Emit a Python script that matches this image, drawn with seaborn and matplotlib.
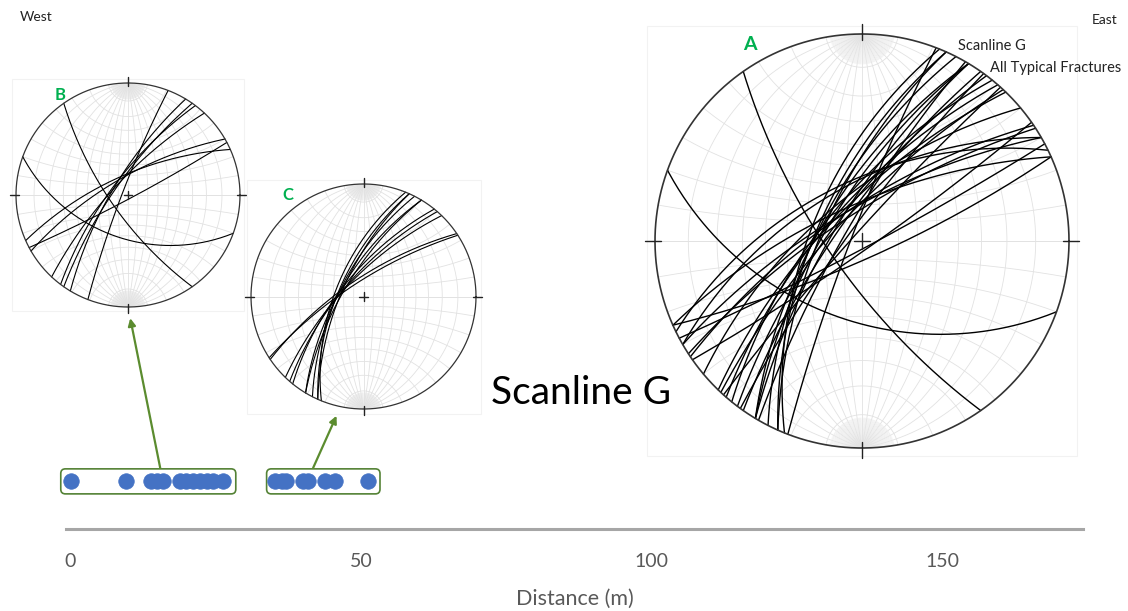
import numpy as np
import pandas as pd
import matplotlib
matplotlib.use('Agg')
import matplotlib.pyplot as plt
from matplotlib.patches import FancyBboxPatch, Rectangle, ConnectionPatch
import seaborn as sns

sns.set_theme(style='white')
plt.rcParams['font.family'] = ['Lato', 'DejaVu Sans']

W, H = 1128, 611

# fracture positions along scanline G (m)
group_b = [0.2, 9.6, 13.9, 14.9, 16.0, 18.9, 20.0, 21.2, 22.3, 23.5, 24.6, 26.3]
group_c = [35.2, 36.4, 37.2, 40.1, 40.9, 43.8, 45.5, 51.3]
dist_ticks = [0, 50, 100, 150]

# plane orientations, dip direction / dip (deg)
b_dipdir = [235, 200, 291, 301, 305, 307, 313, 330, 336, 152]
b_dip = [72, 48, 84, 74, 76, 73, 75, 72, 70, 86]

c_dipdir = [292, 294, 294, 297, 301, 301, 309, 311, 314, 327, 326]
c_dip = [62, 65, 68, 66, 67, 70, 68, 70, 71, 75, 72]

# extra typical fractures only in the combined net
a_extra_dipdir = [330, 334, 156, 145, 300, 306, 312, 320]
a_extra_dip = [60, 58, 80, 85, 80, 82, 85, 66]

GREEN = '#00B050'
ARROW = '#5B8C2F'
BLUE = '#4472C4'


def px_to_fig(x, y):
    return x / W, 1 - y / H


def project(v):
    # stereographic, lower hemisphere
    return v[:, 0] / (1 - v[:, 2]), v[:, 1] / (1 - v[:, 2])


def great_circle(dipdir, dip, r0=0.0, r1=180.0, n=200):
    dd = np.radians(dipdir)
    d = np.radians(dip)
    s = dd - np.pi / 2
    strike_v = np.array([np.sin(s), np.cos(s), 0.0])
    dip_v = np.array([np.sin(dd) * np.cos(d), np.cos(dd) * np.cos(d), -np.sin(d)])
    r = np.radians(np.linspace(r0, r1, n))
    v = np.outer(np.cos(r), strike_v) + np.outer(np.sin(r), dip_v)
    return project(v)


def small_circle(a, n=200):
    a = np.radians(a)
    phi = np.linspace(0, np.pi, n)
    v = np.column_stack([np.sin(a) * np.cos(phi),
                         np.full(n, np.cos(a)),
                         -np.sin(a) * np.sin(phi)])
    return project(v)


def net_axes(fig, cx, cy, R, lim=1.12):
    L = lim * R
    ax = fig.add_axes([(cx - L) / W, 1 - (cy + L) / H, 2 * L / W, 2 * L / H])
    ax.set_xlim(-lim, lim)
    ax.set_ylim(-lim, lim)
    ax.set_axis_off()
    ax.patch.set_alpha(0)
    return ax


def draw_net(ax, dipdirs, dips, lw_gc=0.9, lw_prim=1.1):
    ax.add_patch(Rectangle((-1.04, -1.04), 2.08, 2.08, fill=False,
                           edgecolor='#f2f2f2', lw=0.8))
    grid = '#e2e2e2'
    # dense meridians near the poles
    for d in range(2, 90, 2):
        if d % 10 == 0:
            continue
        for dd in (90, 270):
            for r0, r1 in ((0, 9), (171, 180)):
                x, y = great_circle(dd, d, r0, r1, 20)
                ax.plot(x, y, color='#e8e8e8', lw=0.35)
    for d in range(10, 90, 10):
        for dd in (90, 270):
            x, y = great_circle(dd, d)
            ax.plot(x, y, color=grid, lw=0.6)
    for a in range(10, 180, 10):
        x, y = small_circle(a)
        ax.plot(x, y, color=grid, lw=0.6)
    ax.plot([0, 0], [-1, 1], color=grid, lw=0.6)
    ax.plot([-1, 1], [0, 0], color=grid, lw=0.6)

    for dd, d in zip(dipdirs, dips):
        x, y = great_circle(dd, d)
        ax.plot(x, y, color='black', lw=lw_gc)

    t = np.linspace(0, 2 * np.pi, 400)
    ax.plot(np.cos(t), np.sin(t), color='#333333', lw=lw_prim)
    k = '#222222'
    ax.plot([0, 0], [0.97, 1.05], color=k, lw=1.0)
    ax.plot([0, 0], [-0.97, -1.05], color=k, lw=1.0)
    ax.plot([0.97, 1.05], [0, 0], color=k, lw=1.0)
    ax.plot([-0.97, -1.05], [0, 0], color=k, lw=1.0)
    ax.plot([-0.04, 0.04], [0, 0], color=k, lw=1.0)
    ax.plot([0, 0], [-0.04, 0.04], color=k, lw=1.0)


fig = plt.figure(figsize=(W / 100, H / 100), dpi=100)

# scanline axis
xlim = (-0.7, 174.2)
ax = fig.add_axes([66 / W, (H - 529) / H, (1083 - 66) / W, 89 / H])
ax.patch.set_alpha(0)
df = pd.DataFrame({'Distance': group_b + group_c,
                   'row': 1.0,
                   'group': ['B'] * len(group_b) + ['C'] * len(group_c)})
sns.scatterplot(data=df, x='Distance', y='row', ax=ax, color=BLUE,
                edgecolor=BLUE, s=125, linewidth=0.5, legend=False,
                zorder=3, clip_on=False)
ax.set_xlim(*xlim)
ax.set_ylim(0, 1.85)
ax.set_xticks(dist_ticks)
ax.set_xticklabels([str(t) for t in dist_ticks])
ax.tick_params(axis='x', length=0, pad=17, labelsize=14, labelcolor='#595959')
ax.set_yticks([])
ax.set_xlabel('Distance (m)', fontsize=15.5, color='#595959', labelpad=14)
ax.set_ylabel('')
for sp in ('top', 'left', 'right'):
    ax.spines[sp].set_visible(False)
ax.spines['bottom'].set_color('#a6a6a6')
ax.spines['bottom'].set_linewidth(2.2)

asp = (1.85 / 89) / ((xlim[1] - xlim[0]) / (1083 - 66))
for grp, padl, padr in ((group_b, 1.8, 2.2), (group_c, 1.4, 2.0)):
    x0, x1 = min(grp) - padl, max(grp) + padr
    ax.add_patch(FancyBboxPatch((x0, 0.73), x1 - x0, 0.52,
                                boxstyle='round,pad=0,rounding_size=0.8',
                                mutation_aspect=asp, fill=False,
                                edgecolor='#548235', lw=1.2, zorder=2,
                                clip_on=False))

# stereonets
axA = net_axes(fig, 862, 241, 207)
draw_net(axA, b_dipdir + c_dipdir + a_extra_dipdir, b_dip + c_dip + a_extra_dip,
         lw_gc=1.0, lw_prim=1.2)
axB = net_axes(fig, 128, 195, 112)
draw_net(axB, b_dipdir, b_dip, lw_gc=0.8, lw_prim=0.9)
axC = net_axes(fig, 363.5, 296.5, 112.5)
draw_net(axC, c_dipdir, c_dip, lw_gc=0.8, lw_prim=0.9)

# arrows from scanline groups to their nets
for xstart, tgt, end in ((15.5, axB, (0.02, -1.1)), (41.8, axC, (-0.24, -1.06))):
    con = ConnectionPatch(xyA=(xstart, 1.27), coordsA=ax.transData,
                          xyB=end, coordsB=tgt.transData,
                          arrowstyle='-|>', mutation_scale=11,
                          color=ARROW, lw=1.6)
    fig.add_artist(con)

# labels
def ftext(x, y, s, **kw):
    fx, fy = px_to_fig(x, y)
    fig.text(fx, fy, s, **kw)

ftext(20, 17, 'West', fontsize=10, color='#222222', va='center')
ftext(1092, 20, 'East', fontsize=10, color='#222222', va='center')
ftext(958, 46, 'Scanline G', fontsize=10.5, color='#222222', va='center')
ftext(990, 68, 'All Typical Fractures', fontsize=10.5, color='#222222', va='center')
ftext(581, 393, 'Scanline G', fontsize=28, color='black', ha='center', va='center')
ftext(750, 44, 'A', fontsize=14, color=GREEN, fontweight='bold', ha='center', va='center')
ftext(60, 95, 'B', fontsize=12, color=GREEN, fontweight='bold', ha='center', va='center')
ftext(288, 195, 'C', fontsize=12, color=GREEN, fontweight='bold', ha='center', va='center')

fig.savefig('out.png', dpi=100)
